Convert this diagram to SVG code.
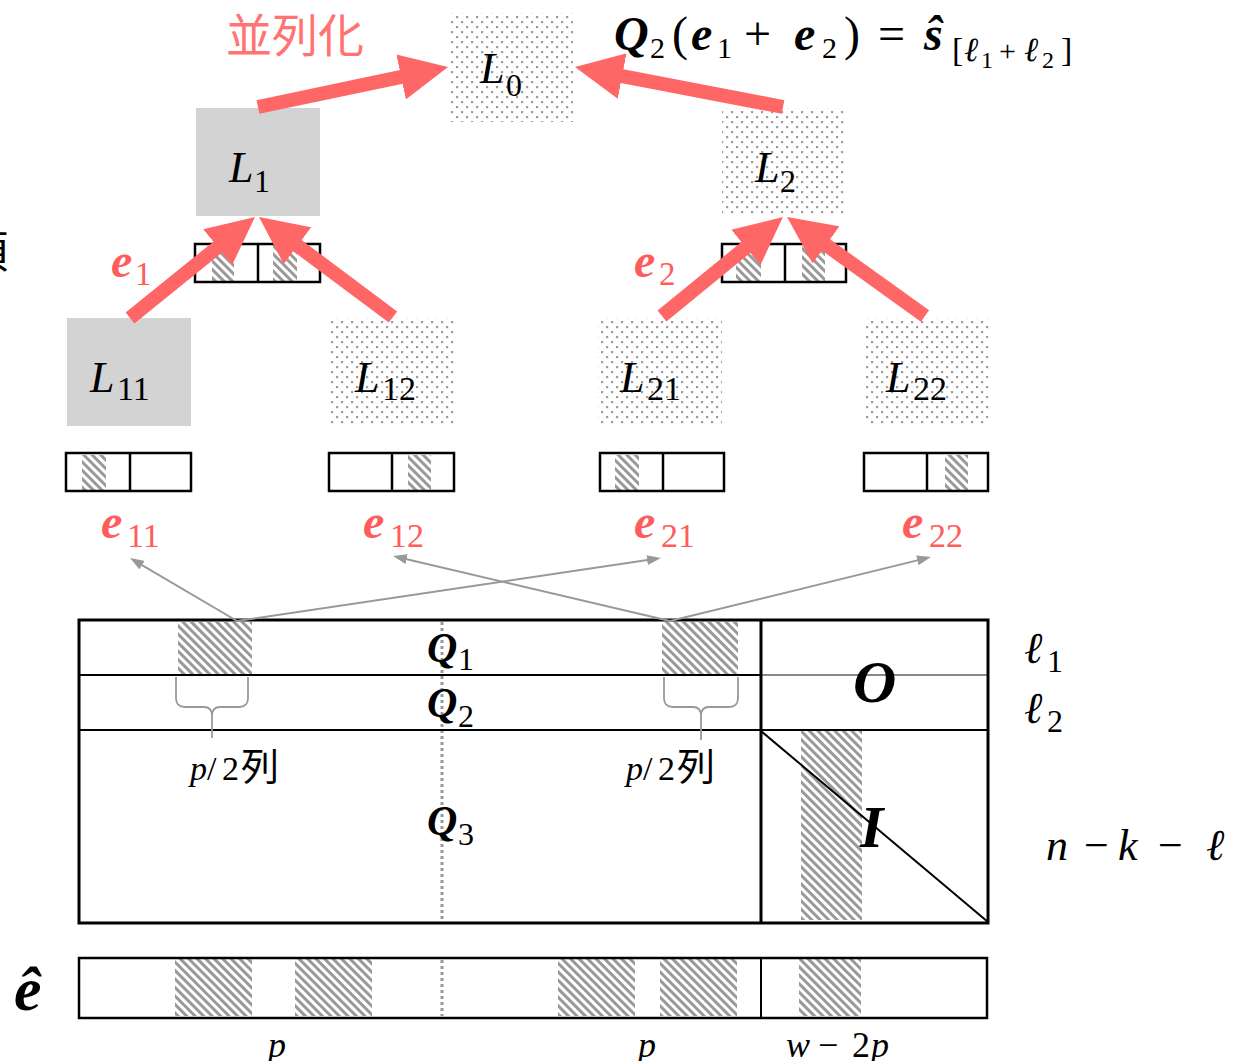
<svg xmlns="http://www.w3.org/2000/svg" width="1247" height="1061" viewBox="0 0 1247 1061">
<style>
.m{font-family:"Liberation Serif","DejaVu Serif",serif;fill:#000}
.bi{font-weight:bold;font-style:italic}
.i{font-style:italic}
.cjk{font-family:"Noto Sans CJK JP","Noto Sans CJK SC",sans-serif}
.red{fill:#ff5c5c}
.solid{fill:#d3d3d3}
.dot{fill:url(#dots)}
.hat{fill:url(#hatch)}
.vec{fill:none;stroke:#000;stroke-width:2.5}
.big{stroke:#ff6666;stroke-width:14;fill:none}
.thin{stroke:#999;stroke-width:2;fill:none}
.brace{stroke:#999;stroke-width:1.8;fill:none}
.mx{stroke:#000;fill:none}
</style>
<defs>
<pattern id="dots" width="10" height="10" patternUnits="userSpaceOnUse"><rect width="10" height="10" fill="#fff"/><rect x="1" y="1" width="2.2" height="2.2" fill="#9c9c9c"/><rect x="6" y="6" width="2.2" height="2.2" fill="#9c9c9c"/></pattern>
<pattern id="hatch" width="6" height="6" patternUnits="userSpaceOnUse" patternTransform="rotate(-45)"><rect width="6" height="6" fill="#fff"/><rect width="3" height="6" fill="#999"/></pattern>
<marker id="rh" markerUnits="userSpaceOnUse" markerWidth="48" markerHeight="46" viewBox="0 0 48 46" refX="4" refY="23" orient="auto"><path d="M0,0 L48,23 L0,46 z" fill="#ff6666"/></marker>
<marker id="gh" markerUnits="userSpaceOnUse" markerWidth="14" markerHeight="10" viewBox="0 0 14 10" refX="2" refY="5" orient="auto"><path d="M0,0 L14,5 L0,10 z" fill="#999"/></marker>
</defs>
<rect width="1247" height="1061" fill="#fff"/>

<text class="cjk" x="-36" y="268" font-size="44">項</text>
<text class="cjk" x="226" y="52" font-size="46" fill="#ff7373">並列化</text>

<g id="formula">
<text class="m" y="50" font-size="48"><tspan x="614" class="bi">Q</tspan><tspan x="650" y="58" font-size="30">2</tspan><tspan x="672" y="50">(</tspan><tspan x="691" class="bi">e</tspan><tspan x="717" y="58" font-size="30">1</tspan><tspan x="744" y="50">+</tspan><tspan x="794" class="bi">e</tspan><tspan x="822" y="58" font-size="30">2</tspan><tspan x="844" y="50">)</tspan><tspan x="878" y="50">=</tspan><tspan x="924" class="bi">ŝ</tspan><tspan x="952" y="61" font-size="34">[</tspan><tspan x="964" y="61" font-size="34" class="i">ℓ</tspan><tspan x="981" y="68" font-size="24">1</tspan><tspan x="999" y="61" font-size="30">+</tspan><tspan x="1024" y="61" font-size="34" class="i">ℓ</tspan><tspan x="1042" y="68" font-size="24">2</tspan><tspan x="1061" y="61" font-size="34">]</tspan></text>
</g>

<g id="L0"><rect class="dot" x="449" y="13" width="124" height="109"/><text class="m" font-size="44"><tspan x="480" y="83" class="i">L</tspan><tspan x="506" y="96" font-size="32">0</tspan></text></g>
<g id="L1"><rect class="solid" x="196" y="108" width="124" height="108"/><text class="m" font-size="44"><tspan x="229" y="182" class="i">L</tspan><tspan x="254" y="192" font-size="32">1</tspan></text></g>
<g id="L2"><rect class="dot" x="722" y="108" width="124" height="108"/><text class="m" font-size="44"><tspan x="755" y="182" class="i">L</tspan><tspan x="780" y="192" font-size="32">2</tspan></text></g>
<g id="L11"><rect class="solid" x="67" y="318" width="124" height="108"/><text class="m" font-size="44"><tspan x="90" y="392" class="i">L</tspan><tspan x="117" y="400" font-size="34">11</tspan></text></g>
<g id="L12"><rect class="dot" x="331" y="318" width="124" height="108"/><text class="m" font-size="44"><tspan x="355" y="392" class="i">L</tspan><tspan x="382" y="400" font-size="34">12</tspan></text></g>
<g id="L21"><rect class="dot" x="598" y="318" width="124" height="108"/><text class="m" font-size="44"><tspan x="620" y="392" class="i">L</tspan><tspan x="647" y="400" font-size="34">21</tspan></text></g>
<g id="L22"><rect class="dot" x="865" y="318" width="124" height="108"/><text class="m" font-size="44"><tspan x="886" y="392" class="i">L</tspan><tspan x="913" y="400" font-size="34">22</tspan></text></g>

<g id="vec-e1"><rect class="hat" x="212" y="245" width="22" height="36"/><rect class="hat" x="273" y="245" width="24" height="36"/><rect class="vec" x="195" y="244" width="125" height="38"/><line class="vec" x1="258" y1="244" x2="258" y2="282"/></g>
<g id="vec-e2"><rect class="hat" x="736" y="245" width="25" height="36"/><rect class="hat" x="802" y="245" width="23" height="36"/><rect class="vec" x="722" y="244" width="124" height="38"/><line class="vec" x1="785" y1="244" x2="785" y2="282"/></g>
<g id="vec-e11"><rect class="hat" x="82" y="455" width="24" height="35"/><rect class="vec" x="66" y="453" width="125" height="38"/><line class="vec" x1="130" y1="453" x2="130" y2="491"/></g>
<g id="vec-e12"><rect class="hat" x="408" y="455" width="23" height="35"/><rect class="vec" x="329" y="453" width="125" height="38"/><line class="vec" x1="392" y1="453" x2="392" y2="491"/></g>
<g id="vec-e21"><rect class="hat" x="615" y="455" width="24" height="35"/><rect class="vec" x="600" y="453" width="124" height="38"/><line class="vec" x1="663" y1="453" x2="663" y2="491"/></g>
<g id="vec-e22"><rect class="hat" x="945" y="455" width="23" height="35"/><rect class="vec" x="864" y="453" width="124" height="38"/><line class="vec" x1="927" y1="453" x2="927" y2="491"/></g>

<g id="labels-e">
<text class="m red" font-size="48"><tspan x="111" y="277" class="bi">e</tspan><tspan x="135" y="285" font-size="33">1</tspan></text>
<text class="m red" font-size="48"><tspan x="634" y="277" class="bi">e</tspan><tspan x="659" y="285" font-size="33">2</tspan></text>
<text class="m red" font-size="48"><tspan x="101" y="538" class="bi">e</tspan><tspan x="127" y="547" font-size="34">11</tspan></text>
<text class="m red" font-size="48"><tspan x="363" y="538" class="bi">e</tspan><tspan x="390" y="547" font-size="34">12</tspan></text>
<text class="m red" font-size="48"><tspan x="634" y="538" class="bi">e</tspan><tspan x="661" y="547" font-size="34">21</tspan></text>
<text class="m red" font-size="48"><tspan x="902" y="538" class="bi">e</tspan><tspan x="929" y="547" font-size="34">22</tspan></text>
</g>

<g id="matrix">
<rect class="hat" x="178" y="622" width="74" height="53"/>
<rect class="hat" x="662" y="622" width="76" height="53"/>
<rect class="hat" x="801" y="731" width="61" height="189"/>
<line x1="442" y1="622" x2="442" y2="922" stroke="#999" stroke-width="3" stroke-dasharray="3 3"/>
<line class="mx" x1="79" y1="675" x2="761" y2="675" stroke-width="2"/>
<line x1="761" y1="675" x2="988" y2="675" stroke="#888" stroke-width="2"/>
<line class="mx" x1="79" y1="730" x2="988" y2="730" stroke-width="2"/>
<line class="mx" x1="761" y1="731" x2="988" y2="922" stroke-width="2"/>
<line class="mx" x1="761" y1="620" x2="761" y2="923" stroke-width="3"/>
<rect class="mx" x="79" y="620" width="909" height="303" stroke-width="3"/>
<path class="brace" d="M176,677 L176,698 Q176,707 185,707 L204,707 Q212,707 212,716 L212,738 M248,677 L248,698 Q248,707 239,707 L220,707 Q212,707 212,716"/>
<path class="brace" d="M664,677 L664,698 Q664,707 673,707 L693,707 Q701,707 701,716 L701,740 M738,677 L738,698 Q738,707 729,707 L709,707 Q701,707 701,716"/>
<text class="m" font-size="34" y="780"><tspan x="190" class="i">p</tspan><tspan x="207">/</tspan><tspan x="222">2</tspan><tspan x="241" class="cjk" font-size="38">列</tspan></text>
<text class="m" font-size="34" y="780"><tspan x="626" class="i">p</tspan><tspan x="643">/</tspan><tspan x="658">2</tspan><tspan x="677" class="cjk" font-size="38">列</tspan></text>
<text class="m" font-size="42"><tspan x="427" y="662" class="bi">Q</tspan><tspan x="458" y="670" font-size="32">1</tspan></text>
<text class="m" font-size="42"><tspan x="427" y="717" class="bi">Q</tspan><tspan x="458" y="727" font-size="32">2</tspan></text>
<text class="m" font-size="42"><tspan x="427" y="835" class="bi">Q</tspan><tspan x="458" y="845" font-size="32">3</tspan></text>
<text class="m bi" x="853" y="702" font-size="60">O</text>
<text class="m bi" x="860" y="847" font-size="60">I</text>
<text class="m" font-size="44"><tspan x="1024" y="663" class="i">ℓ</tspan><tspan x="1047" y="672" font-size="32">1</tspan></text>
<text class="m" font-size="44"><tspan x="1024" y="723" class="i">ℓ</tspan><tspan x="1047" y="732" font-size="32">2</tspan></text>
<text class="m" font-size="44" y="860"><tspan x="1046" class="i">n</tspan><tspan x="1084">−</tspan><tspan x="1118" class="i">k</tspan><tspan x="1158">−</tspan><tspan x="1206" class="i">ℓ</tspan></text>
</g>

<g id="ehat">
<rect class="hat" x="175" y="959" width="77" height="57"/>
<rect class="hat" x="295" y="959" width="77" height="57"/>
<rect class="hat" x="558" y="959" width="77" height="57"/>
<rect class="hat" x="660" y="959" width="77" height="57"/>
<rect class="hat" x="799" y="959" width="62" height="57"/>
<line x1="442" y1="960" x2="442" y2="1016" stroke="#999" stroke-width="3" stroke-dasharray="3 3"/>
<line class="mx" x1="761" y1="958" x2="761" y2="1018" stroke-width="2"/>
<rect class="mx" x="79" y="958" width="908" height="60" stroke-width="2.5"/>
<text class="m bi" x="14" y="1010" font-size="62">ê</text>
<text class="m i" x="268" y="1057" font-size="36">p</text>
<text class="m i" x="638" y="1057" font-size="36">p</text>
<text class="m" font-size="36" y="1057"><tspan x="786" class="i">w</tspan><tspan x="818">−</tspan><tspan x="852">2</tspan><tspan x="871" class="i">p</tspan></text>
</g>

<g id="connectors">
<line class="big" x1="130" y1="318" x2="220.8" y2="244.6" marker-end="url(#rh)"/>
<line class="big" x1="393" y1="317" x2="294.3" y2="243.3" marker-end="url(#rh)"/>
<line class="big" x1="662" y1="316" x2="748.9" y2="244.9" marker-end="url(#rh)"/>
<line class="big" x1="925" y1="316" x2="822.8" y2="242.6" marker-end="url(#rh)"/>
<line class="big" x1="258" y1="107" x2="405" y2="76.1" marker-end="url(#rh)"/>
<line class="big" x1="783" y1="107" x2="618.2" y2="75.3" marker-end="url(#rh)"/>
<line class="thin" x1="237" y1="621" x2="140.3" y2="564.1" marker-end="url(#gh)"/>
<line class="thin" x1="237" y1="621" x2="649.1" y2="559.8" marker-end="url(#gh)"/>
<line class="thin" x1="670" y1="621" x2="404.7" y2="558.7" marker-end="url(#gh)"/>
<line class="thin" x1="670" y1="621" x2="919.3" y2="559.9" marker-end="url(#gh)"/>
</g>
</svg>
